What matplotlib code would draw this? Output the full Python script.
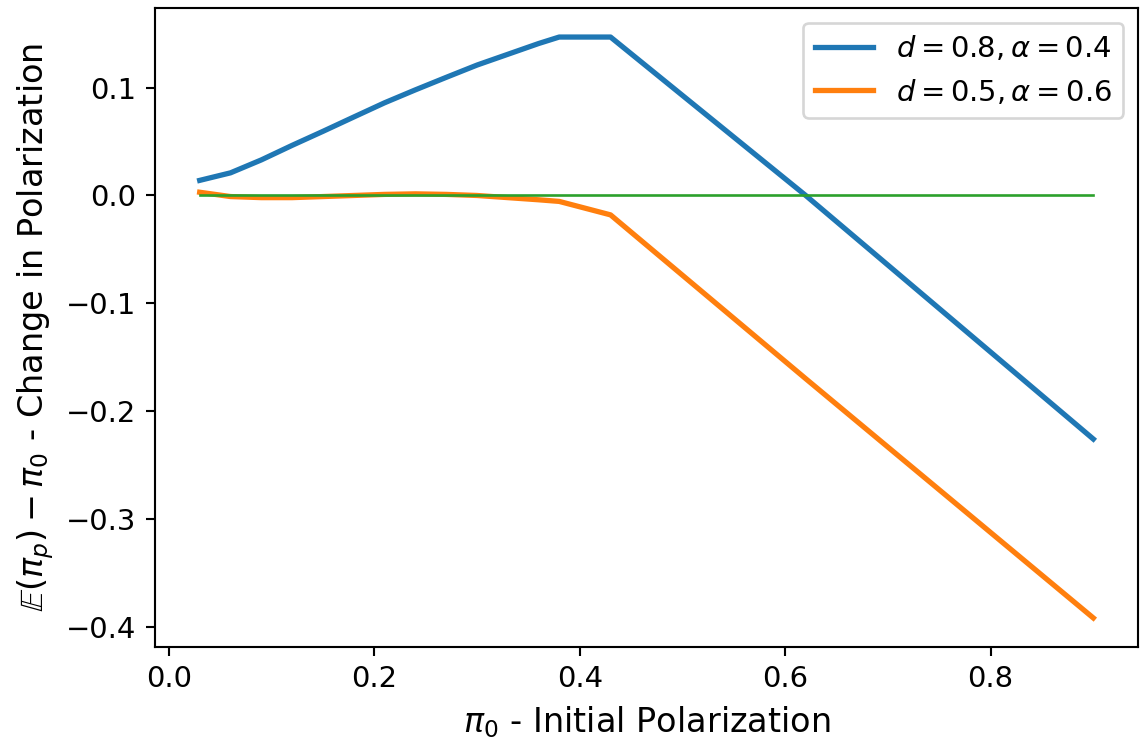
import matplotlib
matplotlib.use('Agg')
import matplotlib.pyplot as plt

# Initial polarization values (x)
pi0 = [0.03, 0.06, 0.09, 0.12, 0.15, 0.18, 0.21, 0.24, 0.27, 0.30,
       0.33, 0.36, 0.38, 0.43, 0.62, 0.90]

# Change in polarization for each parameter set
change_d08_a04 = [0.014, 0.021, 0.033, 0.0465, 0.0595, 0.0728, 0.086, 0.098,
                  0.1096, 0.121, 0.131, 0.141, 0.147, 0.147, 0.0, -0.226]
change_d05_a06 = [0.003, -0.001, -0.002, -0.002, -0.001, 0.0, 0.001, 0.0015,
                  0.001, 0.0, -0.002, -0.004, -0.0055, -0.018, -0.170, -0.392]

# Zero reference line
zero_x = [0.03, 0.90]
zero_y = [0.0, 0.0]

labels = [r'$d = 0.8, \alpha = 0.4$', r'$d = 0.5, \alpha = 0.6$']

dpi = 190
fig = plt.figure(figsize=(1141 / dpi, 749 / dpi), dpi=dpi)
ax = fig.add_axes([155 / 1141, 1 - 647 / 749, (1138 - 155) / 1141, (647 - 8) / 749])

ax.plot(pi0, change_d08_a04, color='C0', linewidth=2, label=labels[0])
ax.plot(pi0, change_d05_a06, color='C1', linewidth=2, label=labels[1])
ax.plot(zero_x, zero_y, color='C2', linewidth=1)

ax.set_xlabel(r'$\pi_0$ - Initial Polarization', fontsize=12.7)
ax.set_ylabel(r'$\mathbb{E}(\pi_p) - \pi_0$ - Change in Polarization', fontsize=12.7)
ax.set_xticks([0.0, 0.2, 0.4, 0.6, 0.8])
ax.set_yticks([-0.4, -0.3, -0.2, -0.1, 0.0, 0.1])
ax.tick_params(labelsize=11)
ax.legend(loc='upper right', fontsize=11)

fig.savefig('out.png', dpi=dpi)
